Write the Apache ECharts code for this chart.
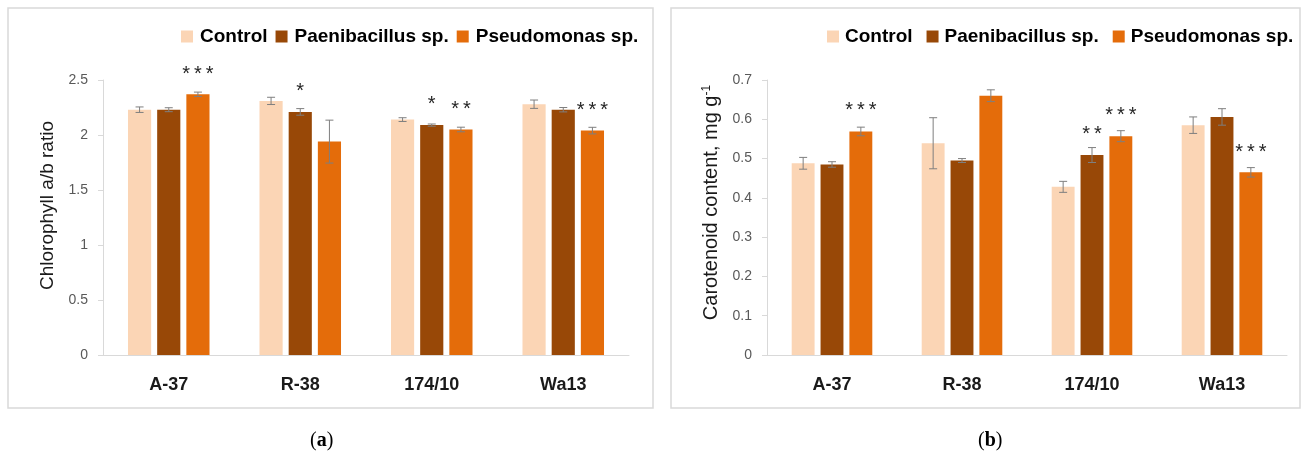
<!DOCTYPE html>
<html>
<head>
<meta charset="utf-8">
<script src="https://cdn.jsdelivr.net/npm/echarts@6/dist/echarts.min.js"></script>
<style>html,body{margin:0;padding:0;background:#fff}#c{width:1308px;height:461px}</style>
</head>
<body>
<div id="c"></div>
<script>
// ---------- data ----------
const categories = ['A-37', 'R-38', '174/10', 'Wa13'];
const seriesNames = ['Control', 'Paenibacillus sp.', 'Pseudomonas sp.'];
const colors = ['#FBD5B5', '#984807', '#E46C0A'];

// (a) Chlorophyll a/b ratio
const chlControl = [2.23, 2.31, 2.14, 2.28];
const chlPaeni = [2.23, 2.21, 2.09, 2.23];
const chlPseudo = [2.37, 1.94, 2.05, 2.04];
const chlControlErr = [0.025, 0.033, 0.017, 0.038];
const chlPaeniErr = [0.018, 0.03, 0.01, 0.02];
const chlPseudoErr = [0.02, 0.195, 0.021, 0.03];
const chlControlSig = ['', '', '', ''];
const chlPaeniSig = ['', '*', '*', ''];
const chlPseudoSig = ['***', '', '**', '***'];
const chlControlSigLevel = [null, null, null, null];
const chlPaeniSigLevel = [null, 2.44, 2.32, null];
const chlPseudoSigLevel = [2.60, null, 2.28, 2.27];
const chlTicks = { min: 0, max: 2.5, interval: 0.5 };

// (b) Carotenoid content, mg g-1
const carControl = [0.488, 0.539, 0.428, 0.585];
const carPaeni = [0.485, 0.495, 0.509, 0.606];
const carPseudo = [0.569, 0.660, 0.557, 0.465];
const carControlErr = [0.015, 0.065, 0.014, 0.021];
const carPaeniErr = [0.007, 0.005, 0.019, 0.021];
const carPseudoErr = [0.011, 0.015, 0.014, 0.012];
const carControlSig = ['', '', '', ''];
const carPaeniSig = ['', '', '**', ''];
const carPseudoSig = ['***', '', '***', '***'];
const carControlSigLevel = [null, null, null, null];
const carPaeniSigLevel = [null, null, 0.574, null];
const carPseudoSigLevel = [0.635, null, 0.622, 0.529];
const carTicks = { min: 0, max: 0.7, interval: 0.1 };

// ---------- build ----------
const CAT_GAP = 0.38, BAR_GAP = 0.26;
const FONT = "'Liberation Sans', Arial, sans-serif";

function buildRows(vals, errs, sigs, levels) {
  const rows = [];
  for (let s = 0; s < 3; s++) {
    for (let i = 0; i < categories.length; i++) {
      rows.push({ cat: i, s: s, val: vals[s][i], err: errs[s][i], sig: sigs[s][i], lvl: levels[s][i] });
    }
  }
  return rows;
}

function makeRender(rows) {
  return function (params, api) {
    const r = rows[params.dataIndex];
    const catW = api.size([1, 0])[0];
    const bw = catW * (1 - CAT_GAP) / (3 + 2 * BAR_GAP);
    const step = bw * (1 + BAR_GAP);
    const c = api.coord([r.cat, r.val]);
    const x = c[0] + (r.s - 1) * step;
    const yHi = api.coord([r.cat, r.val + r.err])[1];
    const yLo = api.coord([r.cat, r.val - r.err])[1];
    const st = { stroke: '#7f7f7f', lineWidth: 1 };
    const children = [
      { type: 'line', shape: { x1: x, y1: yHi, x2: x, y2: yLo }, style: st },
      { type: 'line', shape: { x1: x - 4, y1: yHi, x2: x + 4, y2: yHi }, style: st },
      { type: 'line', shape: { x1: x - 4, y1: yLo, x2: x + 4, y2: yLo }, style: st }
    ];
    if (r.sig) {
      const ty = api.coord([r.cat, r.lvl])[1];
      children.push({
        type: 'text',
        style: {
          text: r.sig.split('').join('\u2009'), x: x, y: ty + 5,
          align: 'center', verticalAlign: 'middle',
          font: '20px ' + FONT, fill: '#262626'
        }
      });
    }
    return { type: 'group', children: children };
  };
}

function barSeries(vals, gi) {
  return vals.map((v, s) => ({
    name: seriesNames[s], type: 'bar', data: v,
    xAxisIndex: gi, yAxisIndex: gi,
    barGap: (BAR_GAP * 100) + '%', barCategoryGap: (CAT_GAP * 100) + '%',
    itemStyle: { color: colors[s] }, emphasis: { disabled: true }
  }));
}

function errSeries(rows, gi) {
  return {
    type: 'custom', xAxisIndex: gi, yAxisIndex: gi, z: 5, clip: false,
    renderItem: makeRender(rows),
    encode: { x: 0, y: 1 },
    data: rows.map(r => [r.cat, r.val]),
    silent: true
  };
}

const chlVals = [chlControl, chlPaeni, chlPseudo];
const carVals = [carControl, carPaeni, carPseudo];
const chlRows = buildRows(chlVals, [chlControlErr, chlPaeniErr, chlPseudoErr],
  [chlControlSig, chlPaeniSig, chlPseudoSig], [chlControlSigLevel, chlPaeniSigLevel, chlPseudoSigLevel]);
const carRows = buildRows(carVals, [carControlErr, carPaeniErr, carPseudoErr],
  [carControlSig, carPaeniSig, carPseudoSig], [carControlSigLevel, carPaeniSigLevel, carPseudoSigLevel]);

function xAxis(gi) {
  return {
    type: 'category', gridIndex: gi, data: categories,
    axisLine: { lineStyle: { color: '#d9d9d9', width: 1 } },
    axisTick: { show: false },
    axisLabel: { color: '#1a1a1a', fontFamily: FONT, fontWeight: 'bold', fontSize: 18, margin: 21 }
  };
}
function yAxis(gi, ticks, name, gap, size, pad, rich) {
  const a = {
    type: 'value', gridIndex: gi, min: ticks.min, max: ticks.max, interval: ticks.interval,
    name: name, nameLocation: 'middle', nameGap: gap,
    nameTextStyle: { color: '#1a1a1a', fontFamily: FONT, fontSize: size, padding: [0, 0, 0, pad] },
    axisLine: { show: true, lineStyle: { color: '#d9d9d9' } },
    axisTick: { show: true, length: 5, lineStyle: { color: '#d9d9d9' } },
    splitLine: { show: false },
    axisLabel: { color: '#595959', fontFamily: FONT, fontSize: 14, margin: 15 }
  };
  if (rich) a.nameTextStyle.rich = rich;
  return a;
}

const serifR = { font: "20px 'Liberation Serif', serif", fill: '#000' };
const serifB = { font: "bold 20px 'Liberation Serif', serif", fill: '#000' };

const chart = echarts.init(document.getElementById('c'), null, { renderer: 'canvas' });
chart.setOption({
  animation: false,
  backgroundColor: '#fff',
  graphic: [
    { type: 'rect', shape: { x: 8, y: 8, width: 645, height: 400 }, style: { fill: 'none', stroke: '#d9d9d9', lineWidth: 1.5 }, silent: true, z: -1 },
    { type: 'rect', shape: { x: 671, y: 8, width: 629, height: 400 }, style: { fill: 'none', stroke: '#d9d9d9', lineWidth: 1.5 }, silent: true, z: -1 },
    { type: 'text', left: 310, top: 431, style: { text: '{r|(}{b|a}{r|)}', rich: { r: serifR, b: serifB } } },
    { type: 'text', left: 978, top: 431, style: { text: '{r|(}{b|b}{r|)}', rich: { r: serifR, b: serifB } } }
  ],
  legend: [
    { left: 176, top: 22, itemWidth: 12, itemHeight: 12, itemGap: 8, icon: 'rect', data: seriesNames,
      selectedMode: false, textStyle: { fontFamily: FONT, fontWeight: 'bold', fontSize: 19, color: '#000', padding: [0, 0, 0, 2] } },
    { left: 822, top: 22, itemWidth: 12, itemHeight: 12, itemGap: 14, icon: 'rect', data: seriesNames,
      selectedMode: false, textStyle: { fontFamily: FONT, fontWeight: 'bold', fontSize: 19, color: '#000', padding: [0, 0, 0, 1] } }
  ],
  grid: [
    { left: 103, right: 679, top: 80, bottom: 106 },
    { left: 767, right: 21, top: 80, bottom: 106 }
  ],
  xAxis: [xAxis(0), xAxis(1)],
  yAxis: [
    yAxis(0, chlTicks, 'Chlorophyll a/b ratio', 46, 19, 24),
    yAxis(1, carTicks, '{m|Carotenoid content, mg g}{s|-1}', 46, 20, 30,
      { m: { fontFamily: FONT, fontSize: 20, color: '#1a1a1a' }, s: { fontFamily: FONT, fontSize: 12, color: '#1a1a1a', verticalAlign: 'top' } })
  ],
  series: [].concat(barSeries(chlVals, 0), [errSeries(chlRows, 0)], barSeries(carVals, 1), [errSeries(carRows, 1)])
});
</script>
</body>
</html>
